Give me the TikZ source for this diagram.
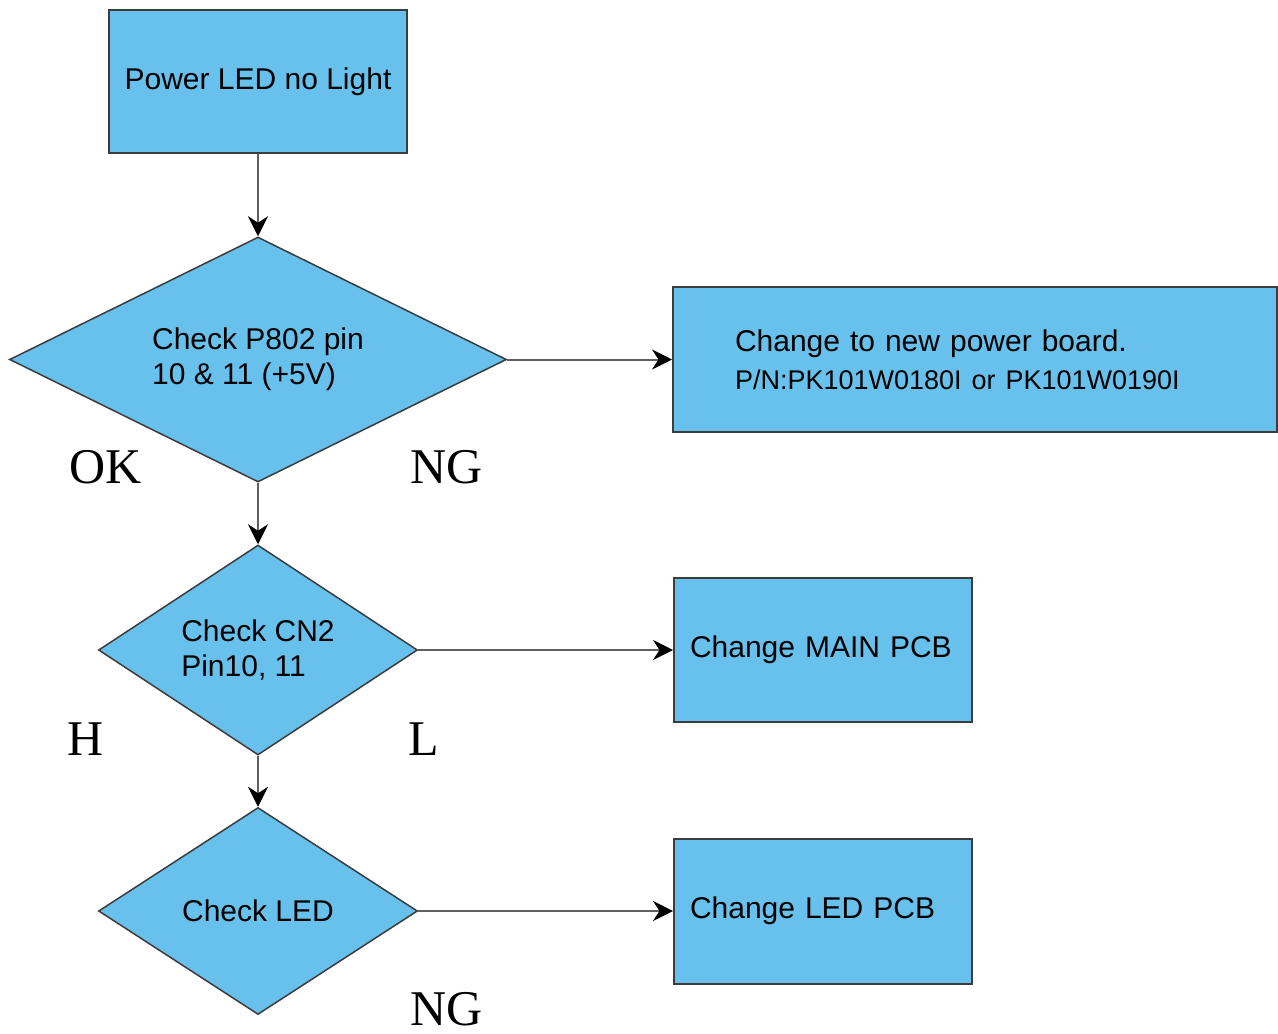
\documentclass[tikz,border=0pt]{standalone}
\usepackage{fontspec}
\setmainfont{Liberation Sans}
\newfontfamily\lblfont{Liberation Serif}
\usetikzlibrary{shapes.geometric,arrows.meta}
\definecolor{boxblue}{RGB}{104,193,236}
\definecolor{edgegray}{RGB}{60,60,60}
\definecolor{linegray}{RGB}{95,95,95}
\tikzset{
  box/.style={draw=edgegray, line width=2pt, fill=boxblue, inner ysep=0pt,
    font=\fontsize{30}{42}\selectfont},
  diam/.style={diamond, draw=edgegray, line width=1.5pt, fill=boxblue, aspect=2,
    inner sep=0pt, align=left, font=\fontsize{30}{35}\selectfont},
  conn/.style={draw=linegray, line width=2pt, -{Stealth[length=20pt,width=20pt,color=black]}},
  lbl/.style={anchor=base, inner sep=0pt, text depth=0pt, font=\lblfont\fontsize{50}{50}\selectfont}
}
\begin{document}
\begin{tikzpicture}[x=1pt,y=-1pt]
\useasboundingbox (0,0) rectangle (1278,1034);
% boxes
\node[box, minimum width=298pt, minimum height=143pt] (b1) at (258,81.5) {Power LED no Light};
\node[box, minimum height=145pt, inner xsep=62pt, text width=480pt, align=left] (b2) at (975,359.5)
  {Change to new power board.\\[-4pt]{\fontsize{27}{30}\selectfont P/N:PK101W0180I or PK101W0190I}};
\node[box, minimum height=144pt, inner xsep=16pt, text width=266pt, align=left] (b3) at (823,650) {Change MAIN PCB};
\node[box, minimum height=145pt, inner xsep=16pt, text width=266pt, align=left] (b4) at (823,911) {Change LED PCB};
% diamonds
\node[diam, minimum width=497pt, minimum height=245pt] (d1) at (258,359.5) {Check P802 pin\\10 \& 11 (+5V)};
\node[diam, minimum width=319pt, minimum height=210pt] (d2) at (258,650) {Check CN2\\Pin10, 11};
\node[diam, minimum width=319pt, minimum height=207pt] (d3) at (258,911) {Check LED};
% connectors
\draw[conn] (b1.south) -- (d1.north);
\draw[conn] (d1.east) -- (b2.west);
\draw[conn] (d1.south) -- (d2.north);
\draw[conn] (d2.east) -- (b3.west);
\draw[conn] (d2.south) -- (d3.north);
\draw[conn] (d3.east) -- (b4.west);
% labels
\node[lbl] (ok) at (106,483) {OK};
\node[lbl] (ng1) at (447,483) {NG};
\node[lbl] (h) at (86,755) {H};
\node[lbl] (l) at (424,755) {L};
\node[lbl] (ng2) at (447,1025) {NG};
\end{tikzpicture}
\end{document}
